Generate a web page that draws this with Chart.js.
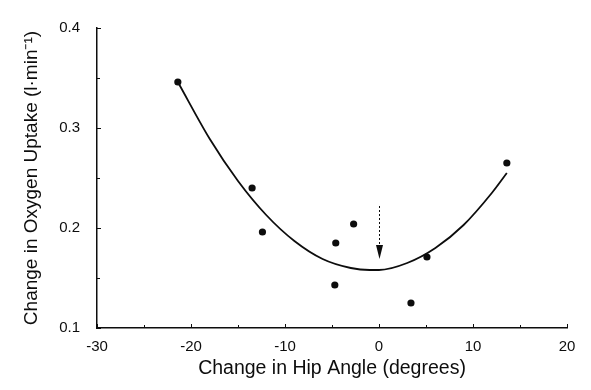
<!DOCTYPE html>
<html>
<head>
<meta charset="utf-8">
<script src="https://cdn.jsdelivr.net/npm/chart.js@4.4.1/dist/chart.umd.min.js"></script>
<style>
  html, body { margin: 0; padding: 0; background: #fff; }
  #wrap { width: 591px; height: 390px; }
</style>
</head>
<body>
<div id="wrap"><canvas id="myChart" width="591" height="390"></canvas></div>
<script>
// measured points (hip angle change, O2 uptake change)
const hipAngle = [-21.4, -13.5, -12.4, -4.6, -2.7, -4.7, 3.4, 5.1, 13.6];
const o2Uptake = [0.346, 0.240, 0.196, 0.185, 0.204, 0.143, 0.125, 0.171, 0.265];

// fitted curve
const curveX = [-21.4, -18, -15, -12, -9, -6, -3, -1, 0, 3, 6, 9, 12, 13.6];
const curveY = [0.346, 0.289, 0.247, 0.213, 0.187, 0.169, 0.160, 0.158, 0.158, 0.165, 0.180, 0.203, 0.235, 0.255];

// dotted arrow at 0 degrees
const arrowX = 0;
const arrowFrom = 0.222;
const arrowTo = 0.169;

const xTicks = [-30, -20, -10, 0, 10, 20];
const yTicks = [0.1, 0.2, 0.3, 0.4];

const ink = '#0d0d0d';
const fontFam = '"Liberation Sans", Arial, sans-serif';

const innerTicks = {
  id: 'innerTicks',
  afterDraw(chart) {
    const ctx = chart.ctx;
    const xs = chart.scales.x, ys = chart.scales.y;
    const area = chart.chartArea;
    ctx.save();
    ctx.strokeStyle = ink;
    ctx.lineWidth = 1;
    for (let v = -30; v <= 20; v += 5) {
      const px = Math.round(xs.getPixelForValue(v)) + 0.5;
      const len = (v % 10 === 0) ? 4 : 3;
      ctx.beginPath();
      ctx.moveTo(px, area.bottom);
      ctx.lineTo(px, area.bottom - len);
      ctx.stroke();
    }
    for (let v = 0.1; v <= 0.4001; v += 0.05) {
      const py = Math.round(ys.getPixelForValue(v)) + 0.5;
      const major = Math.abs(v * 10 - Math.round(v * 10)) < 0.01;
      ctx.beginPath();
      ctx.moveTo(area.left, py);
      ctx.lineTo(area.left + (major ? 4 : 3), py);
      ctx.stroke();
    }

    // arrow
    const ax = Math.round(xs.getPixelForValue(arrowX)) + 0.5;
    const y0 = ys.getPixelForValue(arrowFrom);
    const y1 = ys.getPixelForValue(arrowTo);
    ctx.setLineDash([2, 2]);
    ctx.beginPath();
    ctx.moveTo(ax, y0);
    ctx.lineTo(ax, y1 - 12);
    ctx.stroke();
    ctx.setLineDash([]);
    ctx.fillStyle = ink;
    ctx.beginPath();
    ctx.moveTo(ax - 3.5, y1 - 14);
    ctx.lineTo(ax + 3.5, y1 - 14);
    ctx.lineTo(ax, y1);
    ctx.closePath();
    ctx.fill();
    ctx.restore();
  }
};

const ctx = document.getElementById('myChart').getContext('2d');
const chart = new Chart(ctx, {
  type: 'scatter',
  data: {
    datasets: [
      {
        label: 'fit',
        data: curveX.map((x, i) => ({ x: x, y: curveY[i] })),
        showLine: true,
        borderColor: ink,
        borderWidth: 1.8,
        pointRadius: 0,
        tension: 0.4,
        cubicInterpolationMode: 'monotone',
        fill: false
      },
      {
        label: 'data',
        data: hipAngle.map((x, i) => ({ x: x, y: o2Uptake[i] })),
        backgroundColor: ink,
        borderColor: ink,
        pointRadius: 3.6,
        borderWidth: 0
      }
    ]
  },
  options: {
    responsive: false,
    animation: false,
    layout: { padding: { left: 20, right: 24, top: 28, bottom: 10 } },
    plugins: {
      legend: { display: false },
      tooltip: { enabled: false }
    },
    scales: {
      x: {
        type: 'linear',
        min: -30,
        max: 20,
        afterBuildTicks: (s) => { s.ticks = xTicks.map(v => ({ value: v })); },
        afterFit: (s) => { s.height = 52; },
        grid: { display: false },
        border: { display: true, color: ink, width: 1.5 },
        ticks: {
          color: ink,
          font: { family: fontFam, size: 15 },
          padding: 2,
          maxRotation: 0,
          callback: (v) => String(v)
        },
        title: {
          display: true,
          text: 'Change in Hip Angle (degrees)',
          color: ink,
          font: { family: fontFam, size: 19.5 },
          padding: { top: 0, bottom: 0 }
        }
      },
      y: {
        type: 'linear',
        min: 0.1,
        max: 0.4,
        afterBuildTicks: (s) => { s.ticks = yTicks.map(v => ({ value: v })); },
        afterFit: (s) => { s.width = 77; },
        grid: { display: false },
        border: { display: true, color: ink, width: 1.5 },
        ticks: {
          color: ink,
          font: { family: fontFam, size: 15 },
          padding: 9,
          callback: (v) => v.toFixed(1)
        },
        title: {
          display: true,
          text: 'Change in Oxygen Uptake (l\u00b7min\u207b\u00b9)',
          color: ink,
          font: { family: fontFam, size: 19 },
          padding: { top: 0, bottom: 0 }
        }
      }
    }
  },
  plugins: [innerTicks]
});
</script>
</body>
</html>
